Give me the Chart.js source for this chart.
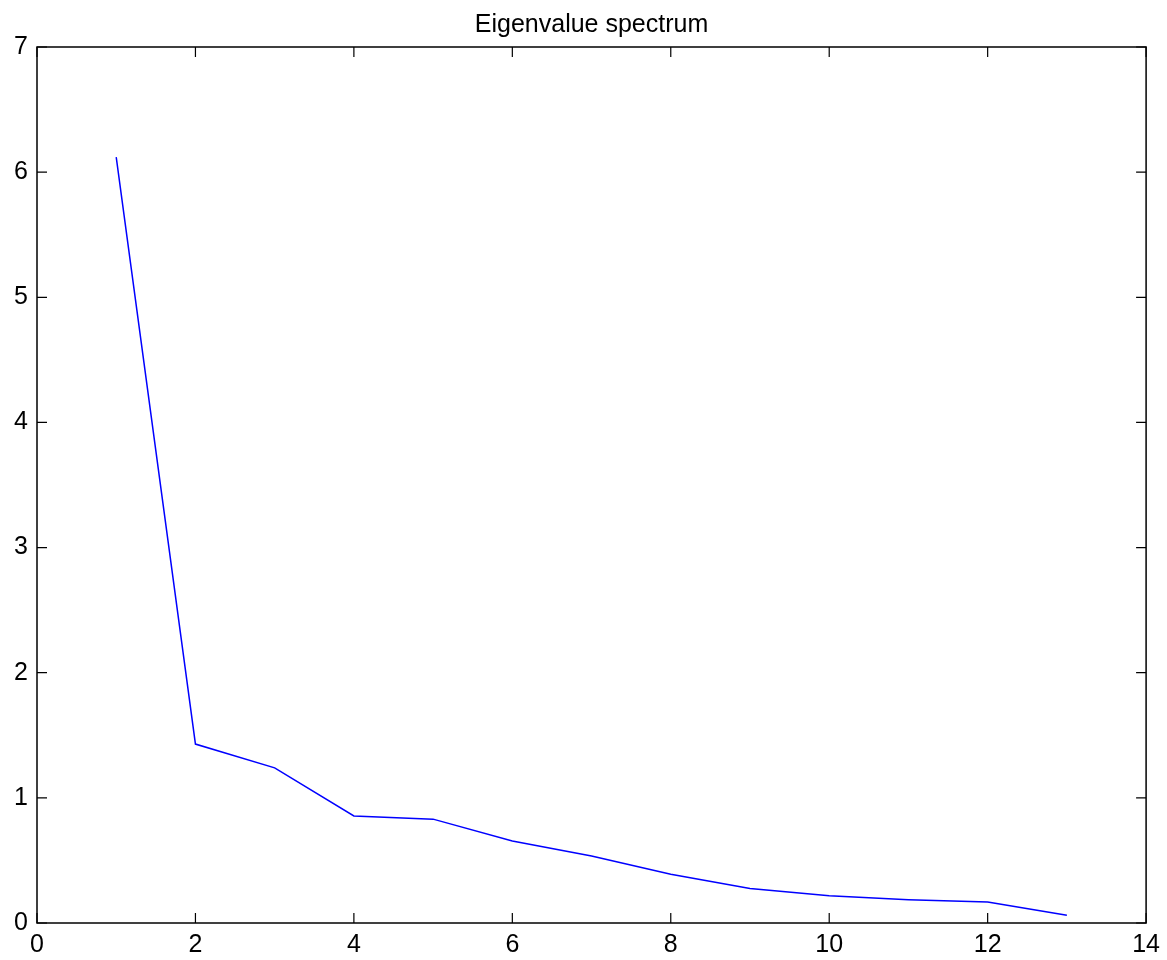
<!DOCTYPE html>
<html>
<head>
  <title>Eigenvalue spectrum</title>
  <script src="https://cdn.jsdelivr.net/npm/chart.js"></script>
  <style>
    body { margin: 0; background: #fff; }
    canvas { display: block; }
  </style>
</head>
<body>
<canvas id="spectrumChart" width="1167" height="960"></canvas>

<script>
  // component index and eigenvalue
  const components = [1, 2, 3, 4, 5, 6, 7, 8, 9, 10, 11, 12, 13];
  const eigenvalues = [6.12, 1.43, 1.24, 0.855, 0.83, 0.655, 0.535, 0.39, 0.275, 0.218, 0.186, 0.168, 0.062];
  const xTicks = [0, 2, 4, 6, 8, 10, 12, 14];
  const yTicks = [0, 1, 2, 3, 4, 5, 6, 7];
  const titleText = 'Eigenvalue spectrum';

  const FONT = "'Liberation Sans', Arial, sans-serif";
  const FONT_SIZE = 25;
  const TICK_LEN = 10;

  // box around the plot, inward ticks on all four sides, title over the plot
  const boxTicks = {
    id: 'boxTicks',
    afterDraw(chart) {
      const { ctx, chartArea: a, scales } = chart;
      ctx.save();
      ctx.strokeStyle = '#000';
      ctx.lineWidth = 1.5;
      ctx.strokeRect(a.left, a.top, a.right - a.left, a.bottom - a.top);
      ctx.lineWidth = 1.2;
      ctx.beginPath();
      xTicks.forEach(v => {
        const px = scales.x.getPixelForValue(v);
        ctx.moveTo(px, a.bottom); ctx.lineTo(px, a.bottom - TICK_LEN);
        ctx.moveTo(px, a.top); ctx.lineTo(px, a.top + TICK_LEN);
      });
      yTicks.forEach(v => {
        const py = scales.y.getPixelForValue(v);
        ctx.moveTo(a.left, py); ctx.lineTo(a.left + TICK_LEN, py);
        ctx.moveTo(a.right, py); ctx.lineTo(a.right - TICK_LEN, py);
      });
      ctx.stroke();

      ctx.fillStyle = '#000';
      ctx.font = FONT_SIZE + 'px ' + FONT;
      ctx.textAlign = 'center';
      ctx.textBaseline = 'alphabetic';
      ctx.fillText(titleText, (a.left + a.right) / 2, 32);
      ctx.restore();
    }
  };

  const ctx = document.getElementById('spectrumChart').getContext('2d');
  new Chart(ctx, {
    type: 'line',
    data: {
      datasets: [{
        data: components.map((c, i) => ({ x: c, y: eigenvalues[i] })),
        borderColor: '#0000ff',
        borderWidth: 1.5,
        pointRadius: 0,
        fill: false,
        tension: 0
      }]
    },
    options: {
      responsive: false,
      animation: false,
      layout: { padding: { top: 47, right: 20, left: 0, bottom: 0 } },
      plugins: {
        legend: { display: false },
        tooltip: { enabled: false },
        title: { display: false }
      },
      scales: {
        x: {
          type: 'linear',
          min: 0,
          max: 14,
          afterBuildTicks: s => { s.ticks = xTicks.map(v => ({ value: v })); },
          afterFit: s => { s.height = 37; },
          grid: { display: false, drawTicks: false },
          border: { display: false },
          ticks: { color: '#000', padding: 7, maxRotation: 0, font: { family: FONT, size: FONT_SIZE } }
        },
        y: {
          min: 0,
          max: 7,
          afterBuildTicks: s => { s.ticks = yTicks.map(v => ({ value: v })); },
          afterFit: s => { s.width = 37; },
          grid: { display: false, drawTicks: false },
          border: { display: false },
          ticks: { color: '#000', padding: 9, font: { family: FONT, size: FONT_SIZE } }
        }
      }
    },
    plugins: [boxTicks]
  });
</script>
</body>
</html>
